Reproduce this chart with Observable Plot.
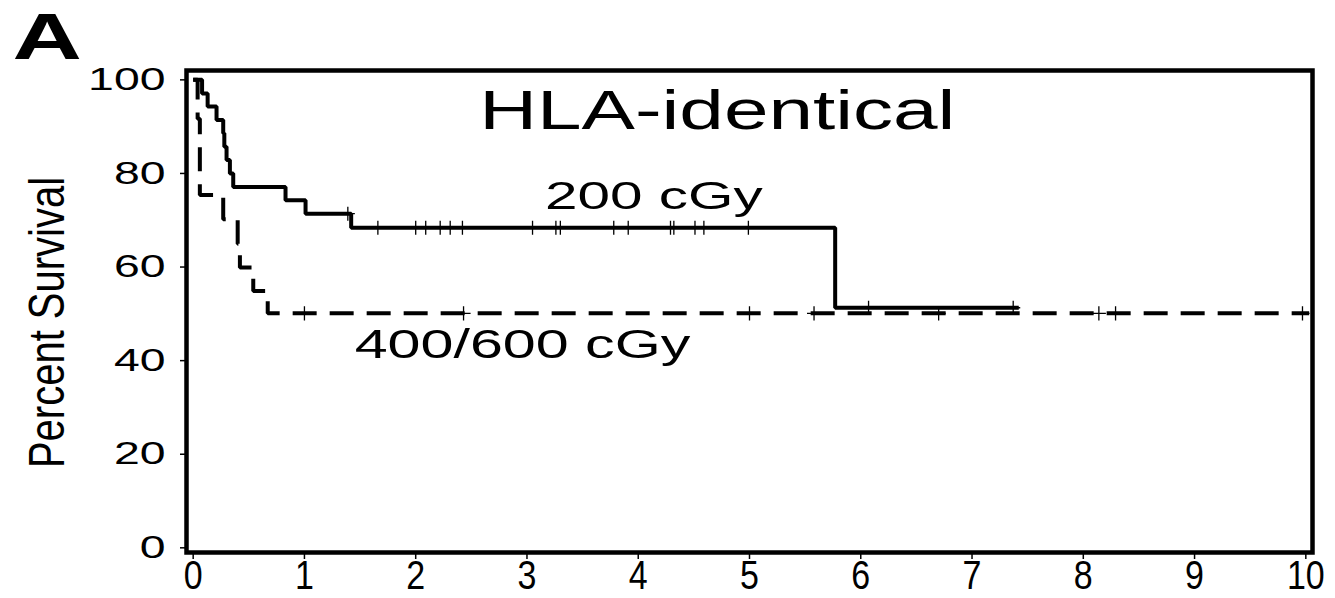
<!DOCTYPE html>
<html>
<head>
<meta charset="utf-8">
<script src="https://cdn.jsdelivr.net/npm/d3@7"></script>
<script src="https://cdn.jsdelivr.net/npm/@observablehq/plot@0.6"></script>
<style>
  html, body { margin: 0; padding: 0; background: #fff; }
  #chart svg { display: block; }
</style>
</head>
<body>
<div id="chart"></div>
<script>
// ---- Data (time in years, percent survival) ----
const solidName = "200 cGy";
const solidTimes    = [0, 0.08, 0.13, 0.21, 0.27, 0.28, 0.30, 0.33, 0.36, 0.83, 1.01, 1.42, 5.77, 7.42];
const solidSurvival = [100, 97.1, 94.3, 91.4, 88.6, 85.7, 82.9, 80.0, 77.1, 74.3, 71.4, 68.4, 51.3, 51.3];
const solidCensorTimes    = [1.39, 1.66, 2.00, 2.09, 2.22, 2.31, 2.42, 3.05, 3.26, 3.30, 3.78, 3.91, 4.29, 4.32, 4.51, 4.59, 4.99, 6.07, 7.37];
const solidCensorSurvival = [71.4, 68.4, 68.4, 68.4, 68.4, 68.4, 68.4, 68.4, 68.4, 68.4, 68.4, 68.4, 68.4, 68.4, 68.4, 68.4, 68.4, 51.3, 51.3];

const dashedName = "400/600 cGy";
const dashedTimes    = [0, 0.04, 0.06, 0.27, 0.40, 0.42, 0.54, 0.67, 10.03];
const dashedSurvival = [100, 91.7, 75.4, 70.2, 65.0, 59.9, 54.9, 50.1, 50.1];
const dashedCensorTimes    = [1.00, 2.43, 5.00, 5.58, 6.70, 8.14, 8.29, 9.97];
const dashedCensorSurvival = [50.1, 50.1, 50.1, 50.1, 50.1, 50.1, 50.1, 50.1];

const xTicks = [0, 1, 2, 3, 4, 5, 6, 7, 8, 9, 10];
const yTicks = [0, 20, 40, 60, 80, 100];

const panelLetter = "A";
const titleText = "HLA-identical";
const yLabel = "Percent Survival";

// ---- Build tables ----
const solid = solidTimes.map((t, i) => ({t, s: solidSurvival[i]}));
const dashed = dashedTimes.map((t, i) => ({t, s: dashedSurvival[i]}));
const solidCens = solidCensorTimes.map((t, i) => ({t, s: solidCensorSurvival[i]}));
const dashedCens = dashedCensorTimes.map((t, i) => ({t, s: dashedCensorSurvival[i]}));

const SANS = "Liberation Sans, Arial, Helvetica, sans-serif";

const chart = Plot.plot({
  width: 1335,
  height: 598,
  marginLeft: 186,
  marginRight: 23,
  marginTop: 70,
  marginBottom: 46,
  style: {background: "#fff", color: "#000", fontFamily: SANS},
  x: {domain: [-0.06, 10.06]},
  y: {domain: [-1, 102]},
  marks: [
    Plot.axisX(xTicks, {tickSize: 7, tickPadding: 1.5, fontSize: 40, fontFamily: SANS, label: null, strokeWidth: 1.5}),
    Plot.axisY(yTicks, {tickSize: 6, tickPadding: 15, fontSize: 32, fontFamily: SANS, label: null, strokeWidth: 1.5}),
    Plot.line(dashed, {x: "t", y: "s", curve: "step-after", stroke: "#000", strokeWidth: 4, strokeDasharray: "24,13", strokeLinejoin: "miter", strokeLinecap: "butt"}),
    Plot.line(solid, {x: "t", y: "s", curve: "step-after", stroke: "#000", strokeWidth: 4, strokeLinejoin: "miter", strokeLinecap: "butt"}),
    Plot.dot(solidCens, {x: "t", y: "s", symbol: "plus", r: 4.6, stroke: "#000", strokeWidth: 1.3}),
    Plot.dot(dashedCens, {x: "t", y: "s", symbol: "plus", r: 4.6, stroke: "#000", strokeWidth: 1.3}),
    Plot.text([titleText], {x: 4.71, y: 89.5, text: d => d, fontSize: 56, textAnchor: "middle", lineAnchor: "bottom", fill: "#000"}),
    Plot.text([solidName], {x: 4.14, y: 72.4, text: d => d, fontSize: 39.5, textAnchor: "middle", lineAnchor: "bottom", fill: "#000"}),
    Plot.text([dashedName], {x: 2.96, y: 40.6, text: d => d, fontSize: 40, textAnchor: "middle", lineAnchor: "bottom", fill: "#000"}),
    Plot.text([panelLetter], {frameAnchor: "top-left", dx: -174, dy: -12, text: d => d, fontSize: 64, fontWeight: "bold", textAnchor: "start", lineAnchor: "bottom", fill: "#000"}),
    Plot.text([yLabel], {frameAnchor: "left", dx: -139, dy: 11, rotate: -90, text: d => d, fontSize: 50, fontFamily: SANS, textAnchor: "middle", lineAnchor: "middle", fill: "#000"}),
    Plot.frame({stroke: "#000", strokeWidth: 4.5})
  ]
});

// The reference figure mixes horizontally stretched and condensed lettering.
function stretch(el, s) {
  const x = parseFloat(el.getAttribute("x")) || 0;
  const t = el.getAttribute("transform") || "";
  el.setAttribute("transform", `${t} translate(${x},0) scale(${s},1) translate(${-x},0)`);
}
const stretchBy = {"HLA-identical": 1.43, "200 cGy": 1.48, "400/600 cGy": 1.48, "A": 1.5, "Percent Survival": 0.8};
d3.select(chart).selectAll("text").each(function() {
  const txt = this.textContent;
  const parentLabel = (this.parentNode && this.parentNode.getAttribute("aria-label")) || "";
  if (parentLabel.startsWith("y-axis")) stretch(this, 1.45);
  else if (parentLabel.startsWith("x-axis")) stretch(this, 0.85);
  else if (stretchBy[txt]) stretch(this, stretchBy[txt]);
});

document.getElementById("chart").appendChild(chart);
</script>
</body>
</html>
